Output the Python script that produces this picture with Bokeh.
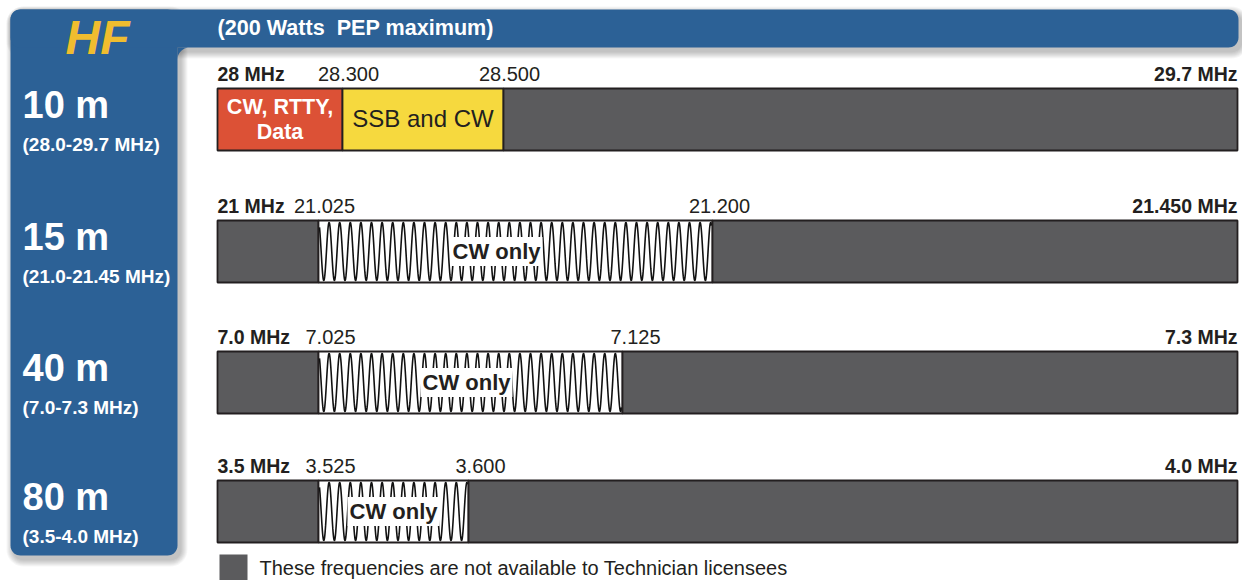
import numpy as np
from bokeh.plotting import figure
from bokeh.models import Range1d
from bokeh.core.properties import value
from bokeh.embed import file_html
from bokeh.resources import INLINE

# ---------------- data ----------------
title_text = "HF"
subtitle_text = "(200 Watts\u00a0 PEP maximum)"
band_names = ["10 m", "15 m", "40 m", "80 m"]
band_ranges = ["(28.0-29.7 MHz)", "(21.0-21.45 MHz)", "(7.0-7.3 MHz)", "(3.5-4.0 MHz)"]
start_labels = ["28 MHz", "21 MHz", "7.0 MHz", "3.5 MHz"]
end_labels = ["29.7 MHz", "21.450 MHz", "7.3 MHz", "4.0 MHz"]
# sub-band edges (MHz) of every band: start, edge, edge, end
edges_10m = [28.0, 28.3, 28.5, 29.7]
edges_15m = [21.0, 21.025, 21.2, 21.45]
edges_40m = [7.0, 7.025, 7.125, 7.3]
edges_80m = [3.5, 3.525, 3.6, 4.0]
edge_labels_10m = ["28.300", "28.500"]
edge_labels_15m = ["21.025", "21.200"]
edge_labels_40m = ["7.025", "7.125"]
edge_labels_80m = ["3.525", "3.600"]
# segment kinds: data = CW/RTTY/Data, ssb = SSB and CW, cw = CW only, none = not available
kinds_10m = ["data", "ssb", "none"]
kinds_15m = ["none", "cw", "none"]
kinds_40m = ["none", "cw", "none"]
kinds_80m = ["none", "cw", "none"]
seg_text = {"data": "CW, RTTY,\nData", "ssb": "SSB and CW", "cw": "CW only", "none": ""}
legend_text = "These frequencies are not available to Technician licensees"

all_edges = [edges_10m, edges_15m, edges_40m, edges_80m]
all_edge_labels = [edge_labels_10m, edge_labels_15m, edge_labels_40m, edge_labels_80m]
all_kinds = [kinds_10m, kinds_15m, kinds_40m, kinds_80m]

# ---------------- layout (schematic, not to scale) ----------------
BLUE = "#2c6196"
GOLD = "#f0bd2f"
GRAY = "#5b5b5d"
RED = "#dc5136"
YELLOW = "#f6d93e"
INK = "#231f20"
FONT = value("Liberation Sans")
fill_of = {"data": RED, "ssb": YELLOW, "cw": "white", "none": GRAY}
# schematic screen positions of the sub-band edges for each band
layout_px = [[217, 342, 503, 1237], [217, 318, 712, 1237],
             [217, 318, 622, 1237], [217, 318, 468, 1237]]
label_shift = [[6, 6], [6, 7], [12, 13], [12, 12]]
cw_text_shift = [0, -19, -4, 0]
bar_top = [88, 220, 351, 480]
bar_h = 62

W, H = 1242, 580
p = figure(width=W, height=H, output_backend="svg", toolbar_location=None,
           x_range=Range1d(0, W), y_range=Range1d(H, 0),
           min_border=0)
p.axis.visible = False
p.grid.visible = False
p.outline_line_color = None
p.background_fill_color = "white"
p.border_fill_color = "white"


def rrect(x0, y0, x1, y1, r, n=10):
    rtl, rtr, rbr, rbl = r
    xs, ys = [], []
    for (cx, cy, rr, t0) in [(x0 + rtl, y0 + rtl, rtl, np.pi), (x1 - rtr, y0 + rtr, rtr, 1.5 * np.pi),
                             (x1 - rbr, y1 - rbr, rbr, 0.0), (x0 + rbl, y1 - rbl, rbl, 0.5 * np.pi)]:
        t = np.linspace(t0, t0 + 0.5 * np.pi, n)
        xs += list(cx + rr * np.cos(t))
        ys += list(cy + rr * np.sin(t))
    return xs, ys


panel = (10, 9, 177, 555)
topbar = (10, 9, 1238, 47)
# shadows
for k in range(1, 8):
    for (x0, y0, x1, y1) in [panel, topbar]:
        xs, ys = rrect(x0 + 3 - k, y0 + 4 - k, x1 + 3 + k, y1 + 4 + k, (10 + k,) * 4)
        p.patch(xs, ys, fill_color="black", fill_alpha=0.035, line_color=None)
for (x0, y0, x1, y1) in [panel, topbar]:
    xs, ys = rrect(x0, y0, x1, y1, (10, 10, 10, 10))
    p.patch(xs, ys, fill_color=BLUE, line_color=None)
# concave inner corner
r = 12
t = np.linspace(np.pi, 1.5 * np.pi, 12)
cx, cy = 177 + r, 47 + r
p.patch([177, 177] + list(cx + r * np.cos(t)) + [177],
        [47, 47 + r] + list(cy + r * np.sin(t)) + [47], fill_color=BLUE, line_color=None)

# title texts
p.text(x=[97], y=[37], text=[title_text], text_font=FONT, text_font_style="bold italic",
       text_font_size="48px", text_color=GOLD, text_align="center", text_baseline="middle")
p.text(x=[217], y=[27], text=[subtitle_text], text_font=FONT, text_font_style="bold",
       text_font_size="21.6px", text_color="white", text_align="left", text_baseline="middle")

# band names in the blue panel
p.text(x=[22] * 4, y=[t + 16 for t in bar_top], text=band_names, text_font=FONT,
       text_font_style="bold", text_font_size="38px", text_color="white",
       text_align="left", text_baseline="middle")
p.text(x=[22] * 4, y=[t + 56 for t in bar_top], text=band_ranges, text_font=FONT,
       text_font_style="bold", text_font_size="19px", text_color="white",
       text_align="left", text_baseline="middle")

for i in range(4):
    edges = all_edges[i]
    xe = np.interp(edges, edges, layout_px[i])
    y0 = bar_top[i]
    y1 = y0 + bar_h
    ym = (y0 + y1) / 2
    ylab = y0 - 15
    kinds = all_kinds[i]
    for j, kind in enumerate(kinds):
        a, b = xe[j], xe[j + 1]
        p.quad(left=[a], right=[b], top=[y0], bottom=[y1], fill_color=fill_of[kind],
               line_color=INK, line_width=1.8)
        if kind == "cw":
            period = 10.6
            xx = np.linspace(a + 1, b - 1, int((b - a) * 6))
            yy = ym - (bar_h / 2 - 2) * np.cos(2 * np.pi * (xx - a) / period)
            p.line(xx, yy, line_color="#111111", line_width=1.6)
            p.text(x=[(a + b) / 2 + cw_text_shift[i]], y=[ym], text=[seg_text[kind]], text_font=FONT,
                   text_font_style="bold", text_font_size="22px", text_color=INK,
                   text_align="center", text_baseline="middle",
                   background_fill_color="white", padding=2)
        elif kind == "data":
            lines = seg_text[kind].split("\n")
            p.text(x=[(a + b) / 2] * len(lines), y=[ym - 13 + 25 * k for k in range(len(lines))],
                   text=lines, text_font=FONT, text_font_style="bold", text_font_size="21.5px",
                   text_color="white", text_align="center", text_baseline="middle")
        elif kind == "ssb":
            p.text(x=[(a + b) / 2], y=[ym - 1], text=[seg_text[kind]], text_font=FONT,
                   text_font_size="24px", text_color=INK,
                   text_align="center", text_baseline="middle")
    # frequency labels above the bar
    p.text(x=[xe[0]], y=[ylab], text=[start_labels[i]], text_font=FONT, text_font_style="bold",
           text_font_size="19.5px", text_color=INK, text_align="left", text_baseline="middle")
    p.text(x=[xe[-1]], y=[ylab], text=[end_labels[i]], text_font=FONT, text_font_style="bold",
           text_font_size="19.5px", text_color=INK, text_align="right", text_baseline="middle")
    p.text(x=list(xe[1:3] + np.array(label_shift[i])), y=[ylab] * 2, text=all_edge_labels[i],
           text_font=FONT, text_font_size="20px", text_color=INK, text_align="center",
           text_baseline="middle")

# legend
p.quad(left=[219], right=[247], top=[554], bottom=[582], fill_color=GRAY, line_color=None)
p.text(x=[259], y=[567], text=[legend_text], text_font=FONT, text_font_size="20px",
       text_color=INK, text_align="left", text_baseline="middle")

open("out.html", "w").write(file_html(p, INLINE))
